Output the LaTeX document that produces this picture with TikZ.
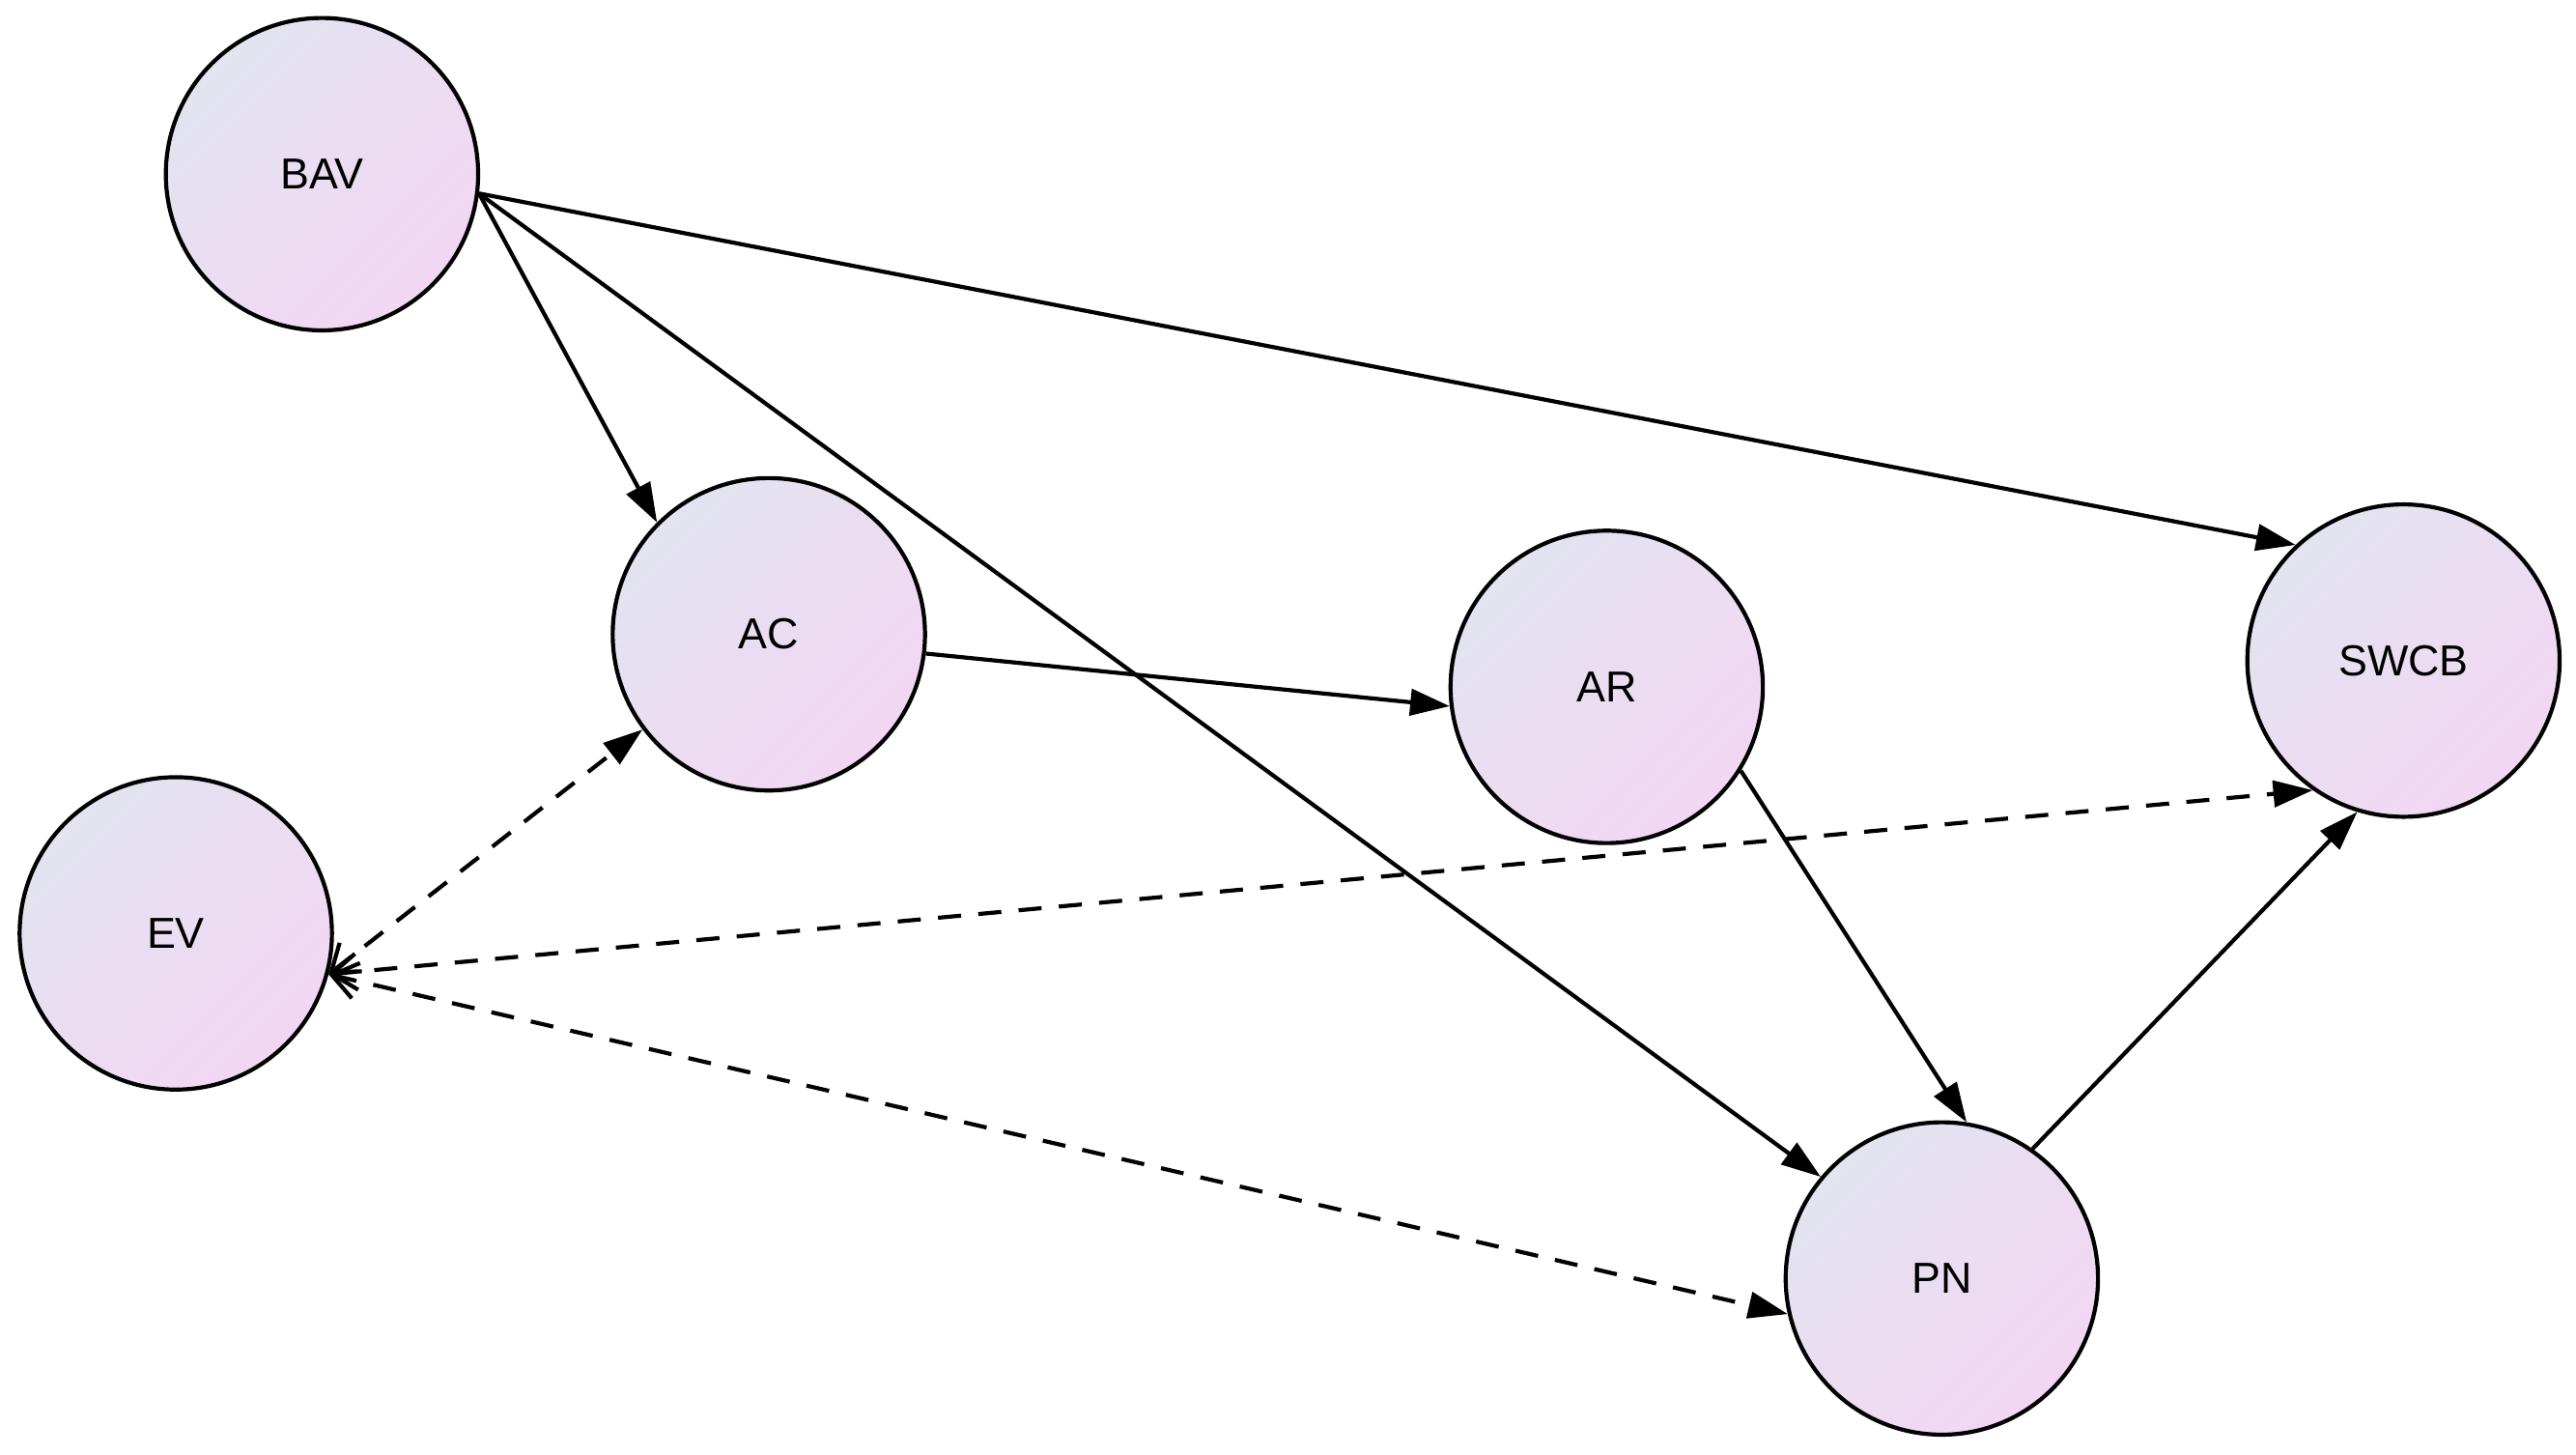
\documentclass[tikz,border=0pt]{standalone}
\usepackage{fontspec}
\setmainfont{Liberation Sans}
\usetikzlibrary{arrows.meta}
\definecolor{cA}{RGB}{226,228,240}
\definecolor{cB}{RGB}{243,214,243}
\begin{document}
\begin{tikzpicture}[x=0.01cm,y=-0.01cm,
  nd/.style={circle,draw=black,line width=0.7pt,minimum size=1.9cm,inner sep=0pt,
    top color=cA,bottom color=cB,shading angle=45,font=\fontsize{7.5}{9}\selectfont},
  sol/.style={line width=0.7pt,-{Triangle[length=0.24cm,width=0.16cm]}},
  dsh/.style={line width=0.7pt,dash pattern=on 4pt off 3pt,{Straight Barb[length=0.15cm,width=0.22cm]}-{Triangle[length=0.24cm,width=0.16cm]}}]
\useasboundingbox (0,0) rectangle (1568,885);
\node[nd] (BAV) at (196,106) {BAV};
\node[nd] (AC) at (468,386) {AC};
\node[nd] (EV) at (107,568) {EV};
\node[nd] (AR) at (978,418) {AR};
\node[nd] (SWCB) at (1463,402) {SWCB};
\node[nd] (PN) at (1182,778) {PN};
\draw[sol] (BAV.-7) -- (AC.135);
\draw[sol] (BAV.-7) -- (PN.140);
\draw[sol] (BAV.-7) -- (SWCB.133);
\draw[sol] (AC.-7) -- (AR.187);
\draw[sol] (AR.-32) -- (PN.81);
\draw[sol] (PN.55) -- (SWCB.253);
\draw[dsh] (EV.-15) -- (AC.217);
\draw[dsh] (EV.-15) -- (SWCB.235);
\draw[dsh] (EV.-15) -- (PN.193);
\end{tikzpicture}
\end{document}
